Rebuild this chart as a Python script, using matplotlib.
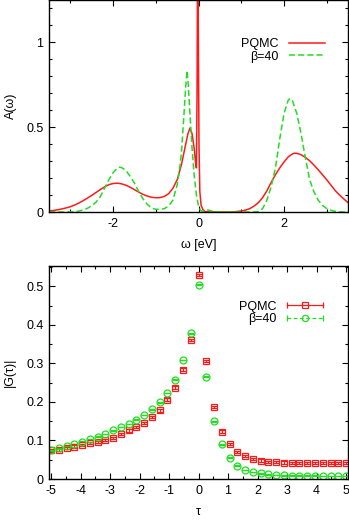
import matplotlib
matplotlib.use('Agg')
import matplotlib.pyplot as plt
from matplotlib.lines import Line2D
from matplotlib.legend_handler import HandlerLine2D
from matplotlib.ticker import MultipleLocator
import numpy as np

plt.rcParams['font.family'] = ['Liberation Sans', 'DejaVu Sans']
plt.rcParams['font.size'] = 9
plt.rcParams['axes.unicode_minus'] = False

RED = '#ff1a1a'
GREEN = '#22dd22'

# --- spectral function A(omega) ---
omega_pqmc = [-3.5, -3.4, -3.3, -3.2, -3.1, -3.0, -2.9, -2.8, -2.7, -2.6, -2.5, -2.4,
              -2.3, -2.2, -2.1, -2.0, -1.9, -1.8, -1.7, -1.6, -1.5, -1.4, -1.3, -1.2,
              -1.1, -1.0, -0.9, -0.8, -0.7, -0.6, -0.5, -0.4, -0.3, -0.25, -0.2, -0.15,
              -0.1, -0.07, -0.05, -0.035, -0.025, -0.012, -0.004, 0.01, 0.03, 0.06, 0.1, 0.15,
              0.25, 0.5, 0.8, 0.9, 1.0, 1.1, 1.2, 1.3, 1.4, 1.5, 1.6, 1.7, 1.8, 1.9,
              2.0, 2.1, 2.2, 2.25, 2.3, 2.4, 2.5, 2.6, 2.7, 2.8, 2.9, 3.0, 3.1, 3.2,
              3.3, 3.4, 3.5]
a_pqmc = [0.006, 0.009, 0.013, 0.018, 0.024, 0.031, 0.041, 0.053, 0.067, 0.082, 0.098, 0.115,
          0.132, 0.148, 0.161, 0.168, 0.170, 0.166, 0.158, 0.146, 0.132, 0.117, 0.104, 0.094,
          0.087, 0.084, 0.085, 0.092, 0.108, 0.14, 0.19, 0.28, 0.40, 0.46, 0.495, 0.46,
          0.37, 0.29, 0.26, 0.7, 1.4, 1.4, 1.0, 0.4, 0.12, 0.04, 0.015, 0.003,
          0.0, 0.0, 0.0, 0.003, 0.006, 0.011, 0.02, 0.035, 0.055, 0.085, 0.125, 0.175, 0.22, 0.26,
          0.295, 0.325, 0.343, 0.347, 0.346, 0.338, 0.322, 0.302, 0.277, 0.249, 0.22, 0.19, 0.158, 0.126,
          0.10, 0.077, 0.055]

omega_b40 = [-3.5, -3.0, -2.9, -2.8, -2.7, -2.6, -2.5, -2.4, -2.3, -2.2, -2.1, -2.0,
             -1.9, -1.85, -1.8, -1.7, -1.6, -1.5, -1.4, -1.3, -1.2, -1.1, -1.0, -0.9,
             -0.8, -0.7, -0.6, -0.5, -0.45, -0.4, -0.35, -0.3, -0.27, -0.24, -0.2, -0.15,
             -0.1, -0.05, 0.0, 0.05, 0.1, 0.15, 0.2, 0.25, 0.3, 0.4, 0.5, 1.3,
             1.4, 1.5, 1.6, 1.7, 1.8, 1.9, 2.0, 2.1, 2.15, 2.2, 2.3, 2.4,
             2.5, 2.6, 2.7, 2.8, 2.9, 3.0, 3.1, 3.2, 3.3, 3.4, 3.5]
a_b40 = [0.0, 0.0, 0.002, 0.005, 0.012, 0.022, 0.037, 0.058, 0.09, 0.14, 0.19, 0.232,
         0.258, 0.264, 0.262, 0.245, 0.21, 0.17, 0.12, 0.078, 0.045, 0.024, 0.016, 0.016,
         0.02, 0.035, 0.07, 0.16, 0.24, 0.35, 0.54, 0.74, 0.834, 0.75, 0.57, 0.37,
         0.21, 0.10, 0.035, 0.008, 0.004, 0.01, 0.012, 0.01, 0.006, 0.001, 0.0, 0.0,
         0.003, 0.02, 0.07, 0.15, 0.26, 0.43, 0.58, 0.66, 0.67, 0.655, 0.58, 0.46,
         0.32, 0.19, 0.12, 0.07, 0.04, 0.02, 0.01, 0.004, 0.001, 0.0, 0.0]

# --- |G(tau)| ---
tau = np.linspace(-5, 5, 39)
g_pqmc = [0.074, 0.0765, 0.080, 0.084, 0.088, 0.094, 0.0965, 0.102, 0.107, 0.117,
          0.126, 0.135, 0.145, 0.161, 0.178, 0.206, 0.237, 0.284, 0.361, 0.529,
          0.306, 0.187, 0.123, 0.091, 0.070, 0.059, 0.052, 0.048, 0.045, 0.0435,
          0.0426, 0.042, 0.042, 0.042, 0.042, 0.041, 0.041, 0.041, 0.041]
g_b40 = [0.074, 0.080, 0.086, 0.091, 0.0965, 0.103, 0.110, 0.117, 0.126, 0.135,
         0.143, 0.154, 0.166, 0.181, 0.199, 0.223, 0.258, 0.309, 0.378, 0.504,
         0.265, 0.150, 0.090, 0.055, 0.035, 0.0235, 0.018, 0.015, 0.012, 0.0104,
         0.0096, 0.0087, 0.0087, 0.0085, 0.0083, 0.008, 0.008, 0.008, 0.008]
err_pqmc = 0.003
err_b40 = 0.001

fig = plt.figure(figsize=(3.49, 5.2), dpi=100)
ax1 = fig.add_axes([0.1404, 0.5923, 0.857, 0.4077])
ax2 = fig.add_axes([0.1404, 0.0788, 0.857, 0.4100])

for ax in (ax1, ax2):
    for s in ax.spines.values():
        s.set_linewidth(1.0)
    ax.tick_params(which='both', direction='in', top=True, right=True, width=0.8, pad=4)
    ax.tick_params(which='major', length=4.5)
    ax.tick_params(which='minor', length=2.5)

# top panel
ax1.plot(omega_pqmc, a_pqmc, color=RED, lw=1.1, label='PQMC')
ax1.plot(omega_b40, a_b40, color=GREEN, lw=1.1, ls=(0, (4, 2)), label='β=40')
ax1.set_xlim(-3.5, 3.5)
ax1.set_ylim(0, 1.25)
ax1.xaxis.set_major_locator(MultipleLocator(2))
ax1.xaxis.set_minor_locator(MultipleLocator(1))
ax1.set_yticks([0, 0.5, 1])
ax1.set_yticklabels(['0', '0.5', '1'])
ax1.yaxis.set_minor_locator(MultipleLocator(0.1))
ax1.set_xlabel('ω [eV]', labelpad=7)
ax1.set_ylabel('A(ω)', labelpad=7)
ax1.legend(loc='upper right', bbox_to_anchor=(0.923, 0.82), frameon=False,
           markerfirst=False, handlelength=2.9, handletextpad=0.8,
           labelspacing=0.05, borderpad=0, borderaxespad=0)

# bottom panel
ax2.errorbar(tau, g_pqmc, yerr=err_pqmc, fmt='s', mfc='none', mec=RED, ms=5, mew=0.9,
             ecolor=RED, elinewidth=0.8, capsize=2, capthick=0.8)
ax2.errorbar(tau, g_b40, yerr=err_b40, fmt='o', mfc='none', mec=GREEN, ms=5, mew=0.9,
             ecolor=GREEN, elinewidth=0.8, capsize=2, capthick=0.8)
ax2.set_xlim(-5.07, 5.07)
ax2.set_ylim(0, 0.553)
ax2.xaxis.set_major_locator(MultipleLocator(1))
ax2.xaxis.set_minor_locator(MultipleLocator(0.5))
ax2.yaxis.set_major_locator(MultipleLocator(0.1))
ax2.yaxis.set_minor_locator(MultipleLocator(0.05))
ax2.set_yticks([0, 0.1, 0.2, 0.3, 0.4, 0.5])
ax2.set_yticklabels(['0', '0.1', '0.2', '0.3', '0.4', '0.5'])
ax2.set_xlabel('τ', labelpad=7)
ax2.set_ylabel('|G(τ)|', labelpad=7)

caps_r = Line2D([], [], color=RED, lw=0.9, marker='|', ms=4, mew=0.9)
mark_r = Line2D([], [], color=RED, ls='none', marker='s', mfc='none', ms=4.5, mew=0.9)
caps_g = Line2D([], [], color=GREEN, lw=0.9, ls=(0, (3, 2)), marker='|', ms=4, mew=0.9)
mark_g = Line2D([], [], color=GREEN, ls='none', marker='o', mfc='none', ms=4.5, mew=0.9)
hmap = {caps_r: HandlerLine2D(numpoints=2, marker_pad=0),
        caps_g: HandlerLine2D(numpoints=2, marker_pad=0),
        mark_r: HandlerLine2D(numpoints=1),
        mark_g: HandlerLine2D(numpoints=1)}
ax2.legend([(caps_r, mark_r), (caps_g, mark_g)], ['PQMC', 'β=40'], handler_map=hmap,
           loc='upper right', bbox_to_anchor=(0.916, 0.836), frameon=False,
           markerfirst=False, handlelength=2.9, handletextpad=0.8,
           labelspacing=0.05, borderpad=0, borderaxespad=0)

fig.savefig('out.png', dpi=100)
